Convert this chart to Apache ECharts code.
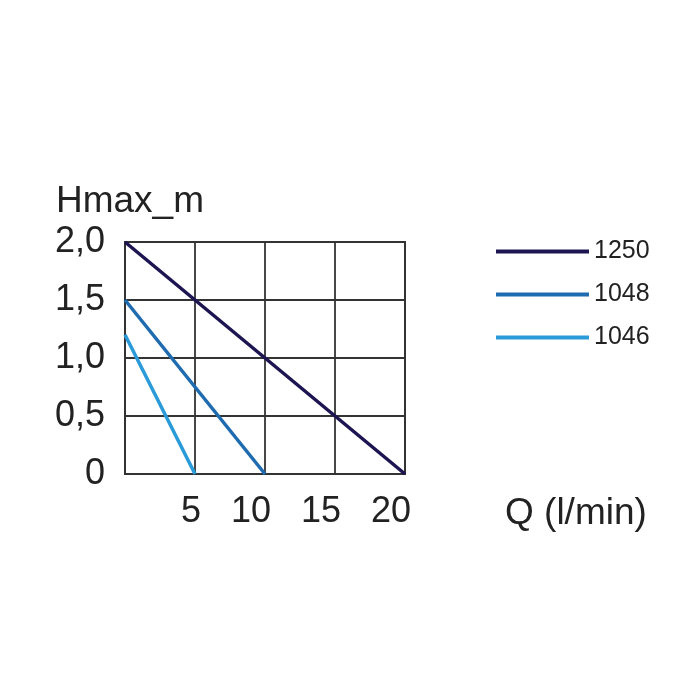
<!DOCTYPE html>
<html>
<head>
<meta charset="utf-8">
<script src="https://cdn.jsdelivr.net/npm/echarts@6/dist/echarts.min.js"></script>
<style>
  html, body { margin: 0; padding: 0; background: #fff; }
  #chart { width: 700px; height: 700px; }
</style>
</head>
<body>
<div id="chart"></div>
<script>
// pump curves: flow Q (l/min) vs max head (m)
var seriesNames = ['1250', '1048', '1046'];
var flowQ = [
  [0, 20],
  [0, 10],
  [0, 5]
];
var headH = [
  [2.0, 0],
  [1.5, 0],
  [1.2, 0]
];
var colors = ['#1c1552', '#1f6bb0', '#2a9ad8'];
var xTicks = [0, 5, 10, 15, 20];
var yTicks = [0, 0.5, 1.0, 1.5, 2.0];

var fontFamily = 'Liberation Sans, Arial, sans-serif';

function buildSeries() {
  var res = [];
  for (var i = 0; i < seriesNames.length; ++i) {
    var data = [];
    for (var j = 0; j < flowQ[i].length; ++j) {
      data.push([flowQ[i][j], headH[i][j]]);
    }
    res.push({
      name: seriesNames[i],
      type: 'line',
      data: data,
      symbol: 'none',
      lineStyle: { width: 3.5, color: colors[i] },
      itemStyle: { color: colors[i] },
      z: 3 - i
    });
  }
  return res;
}

var chart = echarts.init(document.getElementById('chart'));
chart.setOption({
  animation: false,
  backgroundColor: '#fff',
  textStyle: { fontFamily: fontFamily },
  title: [{
    text: 'Hmax_m',
    left: 51,
    top: 178,
    textStyle: { fontSize: 37, fontWeight: 'normal', color: '#222', fontFamily: fontFamily }
  }, {
    text: 'Q (l/min)',
    left: 500,
    top: 490,
    textStyle: { fontSize: 37, fontWeight: 'normal', color: '#222', fontFamily: fontFamily }
  }],
  legend: {
    orient: 'vertical',
    left: 496,
    top: 239,
    padding: 0,
    itemWidth: 93,
    itemHeight: 4,
    itemGap: 18,
    icon: 'rect',
    textStyle: { fontSize: 25, color: '#222' },
    data: seriesNames
  },
  grid: {
    left: 125,
    right: 295,
    top: 242,
    bottom: 226,
    show: true,
    borderColor: '#333',
    borderWidth: 2
  },
  xAxis: {
    type: 'value',
    min: xTicks[0],
    max: xTicks[xTicks.length - 1],
    interval: 5,
    axisLine: { show: false },
    axisTick: { show: false },
    splitLine: { show: true, lineStyle: { color: '#333', width: 1.8 } },
    axisLabel: {
      margin: 20,
      fontSize: 36,
      color: '#222',
      align: 'right',
      padding: [0, -6, 0, 0],
      formatter: function(v) { return v === 0 ? '' : String(v); }
    }
  },
  yAxis: {
    type: 'value',
    min: yTicks[0],
    max: yTicks[yTicks.length - 1],
    interval: 0.5,
    axisLine: { show: false },
    axisTick: { show: false },
    splitLine: { show: true, lineStyle: { color: '#333', width: 1.8 } },
    axisLabel: {
      margin: 20,
      fontSize: 36,
      color: '#222',
      formatter: function(v) { return v === 0 ? '0' : v.toFixed(1).replace('.', ','); }
    }
  },
  series: buildSeries()
});
</script>
</body>
</html>
